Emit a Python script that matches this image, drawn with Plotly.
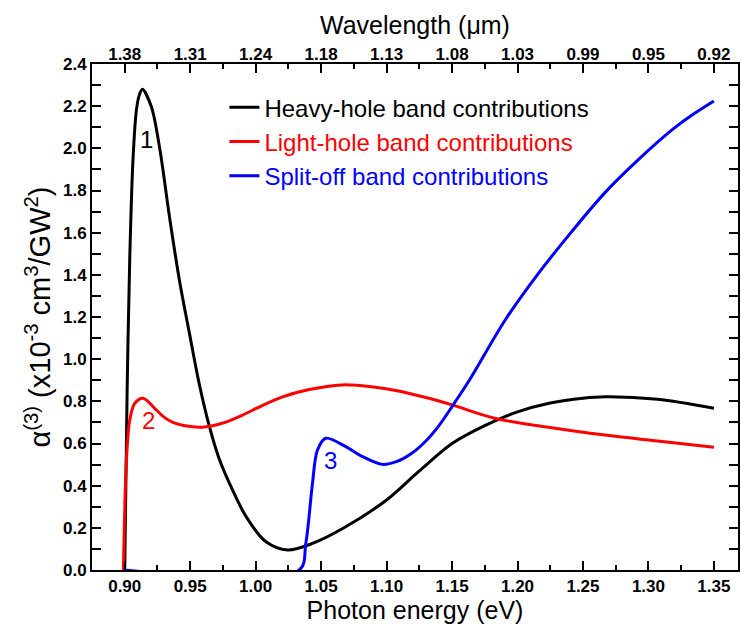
import plotly.graph_objects as go

# Photon energy (eV) and third-order absorption contributions (x10^-3 cm^3/GW^2)
hh_energy = [0.900, 0.9018, 0.9038, 0.9063, 0.9089, 0.9110, 0.9135, 0.9203, 0.9267, 0.9343,
             0.9419, 0.9495, 0.9570, 0.9647, 0.9720, 0.9800, 0.9927, 1.0079, 1.0244, 1.0434,
             1.0688, 1.1000, 1.1250, 1.1500, 1.1750, 1.2000, 1.2250, 1.2500, 1.2668, 1.3070,
             1.3500]
hh_alpha = [0.0, 0.84, 1.47, 1.945, 2.18, 2.25, 2.28, 2.198, 2.0, 1.67,
            1.37, 1.12, 0.88, 0.68, 0.53, 0.411, 0.253, 0.134, 0.095, 0.126,
            0.205, 0.332, 0.47, 0.60, 0.685, 0.750, 0.792, 0.815, 0.822, 0.810,
            0.767]

lh_energy = [0.899, 0.9013, 0.9038, 0.9076, 0.9140, 0.9241, 0.9300, 0.9368, 0.9450, 0.9590,
             0.9750, 0.9900, 1.0050, 1.0200, 1.0400, 1.0660, 1.0900, 1.1100, 1.1300, 1.1500,
             1.1825, 1.2236, 1.2668, 1.3070, 1.3500]
lh_alpha = [0.0, 0.52, 0.71, 0.79, 0.815, 0.759, 0.725, 0.70, 0.685, 0.677,
            0.697, 0.735, 0.78, 0.82, 0.855, 0.878, 0.868, 0.848, 0.818, 0.783,
            0.72, 0.677, 0.640, 0.612, 0.582]

so_energy = [0.899, 1.0333, 1.0383, 1.0434, 1.0472, 1.0536, 1.0688, 1.0815, 1.0967, 1.1080,
             1.1195, 1.1300, 1.1400, 1.1500, 1.1627, 1.1906, 1.2160, 1.2414, 1.2668, 1.2921,
             1.3175, 1.3350, 1.3500]
so_alpha = [0.0, 0.0, 0.126, 0.411, 0.569, 0.625, 0.585, 0.538, 0.501, 0.515,
            0.555, 0.612, 0.685, 0.775, 0.895, 1.186, 1.407, 1.605, 1.79, 1.945,
            2.085, 2.165, 2.225]

energy_ticks = [0.90, 0.95, 1.00, 1.05, 1.10, 1.15, 1.20, 1.25, 1.30, 1.35]
wavelength_labels = ["1.38", "1.31", "1.24", "1.18", "1.13", "1.08", "1.03", "0.99", "0.95", "0.92"]

# curve labels: (text, energy, value, colour)
curve_labels = [("1", 0.9165, 2.04, "black"), ("2", 0.9178, 0.71, "red"), ("3", 1.0574, 0.52, "blue")]

series = [
    ("Heavy-hole band contributions", hh_energy, hh_alpha, "black"),
    ("Light-hole band contributions", lh_energy, lh_alpha, "red"),
    ("Split-off band contributions", so_energy, so_alpha, "blue"),
]

FONT = "Liberation Sans, Arial, sans-serif"
XR = [0.875, 1.3684]

fig = go.Figure()
for name, e, a, col in series:
    fig.add_trace(go.Scatter(
        x=e, y=a, mode="lines", line=dict(color=col, width=3, shape="spline", smoothing=0.9),
        name=f'<span style="color:{col}">{name}</span>',
    ))

# invisible trace carrying the top wavelength axis
fig.add_trace(go.Scatter(x=XR, y=[None, None], xaxis="x2", showlegend=False, hoverinfo="skip"))

for txt, xv, yv, col in curve_labels:
    fig.add_annotation(x=xv, y=yv, text=txt, showarrow=False,
                       font=dict(family=FONT, size=24, color=col))

tick_common = dict(ticks="inside", ticklen=9, tickwidth=1.5, tickcolor="black")
fig.update_layout(
    width=741, height=633,
    margin=dict(l=92, r=1, t=64, b=63),
    plot_bgcolor="white", paper_bgcolor="white",
    font=dict(family=FONT, color="black"),
    xaxis=dict(
        range=XR, tickvals=energy_ticks, ticktext=[f"{v:.2f}" for v in energy_ticks],
        showgrid=False, zeroline=False, showline=True, linecolor="black", linewidth=2,
        mirror="allticks", **tick_common,
        minor=dict(ticks="inside", ticklen=5, tickwidth=1.5, tickcolor="black",
                   tickvals=[0.925 + 0.05 * i for i in range(9)]),
        tickfont=dict(family=FONT, size=17, weight="bold"),
        title=dict(text="Photon energy (eV)", font=dict(family=FONT, size=25), standoff=6),
    ),
    xaxis2=dict(
        range=XR, overlaying="x", side="top", tickvals=energy_ticks, ticktext=wavelength_labels,
        showgrid=False, zeroline=False, showline=False, ticks="",
        tickfont=dict(family=FONT, size=17, weight="bold"),
        title=dict(text="Wavelength (\u03bcm)", font=dict(family=FONT, size=25), standoff=2),
    ),
    yaxis=dict(
        range=[0, 2.4], dtick=0.2, tickformat=".1f",
        showgrid=False, zeroline=False, showline=True, linecolor="black", linewidth=2,
        mirror="allticks", **tick_common,
        minor=dict(ticks="inside", ticklen=5, tickwidth=1.5, tickcolor="black", dtick=0.1),
        tickfont=dict(family=FONT, size=17, weight="bold"),
        title=dict(text="\u03b1<sup>(3)</sup> (x10<sup>-3</sup> cm<sup>3</sup>/GW<sup>2</sup>)",
                   font=dict(family=FONT, size=29), standoff=4),
    ),
    legend=dict(x=0.205, y=0.958, xanchor="left", yanchor="top",
                font=dict(family=FONT, size=24), bgcolor="rgba(0,0,0,0)",
                itemwidth=30, tracegroupgap=0),
    showlegend=True,
)

fig.write_html("out.html")
